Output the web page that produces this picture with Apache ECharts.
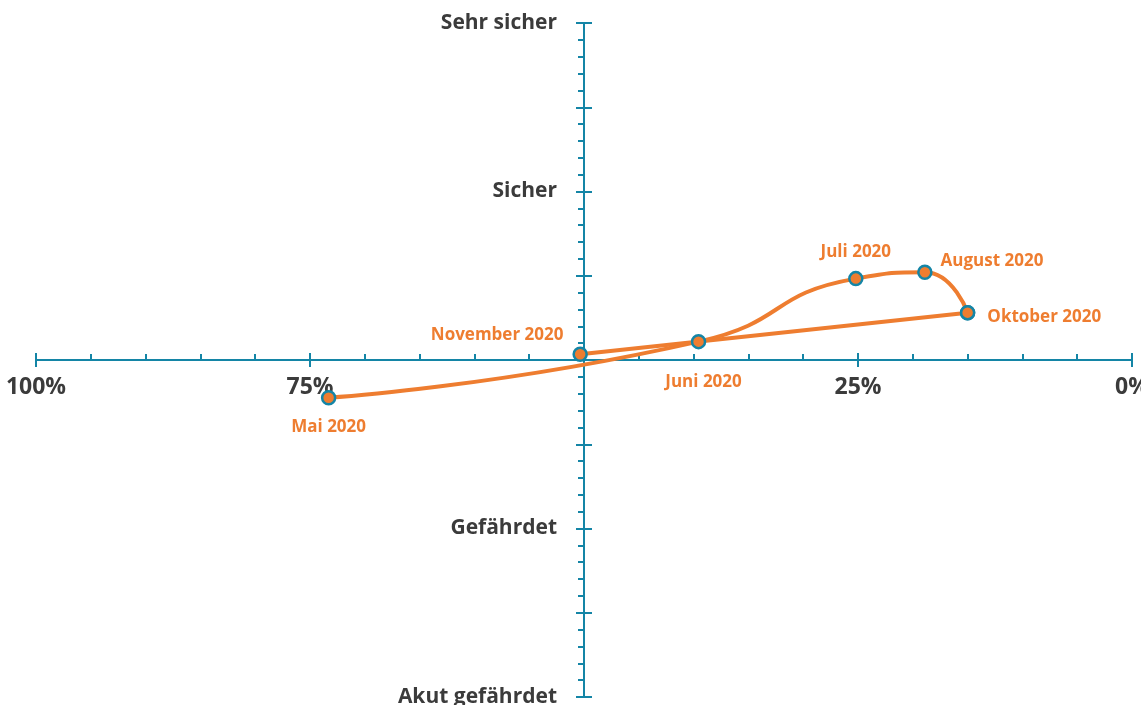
<!DOCTYPE html>
<html>
<head>
<meta charset="utf-8">
<script src="https://cdn.jsdelivr.net/npm/echarts@6/dist/echarts.min.js"></script>
<style>
html,body{margin:0;padding:0;background:#fff;}
#chart{width:1141px;height:705px;}
</style>
</head>
<body>
<div id="chart"></div>
<script>
// Data (x = percent, y = security score -2..2)
const months = ['Mai 2020', 'Juni 2020', 'Juli 2020', 'August 2020', 'Oktober 2020', 'November 2020'];
const xPercent = [73.3, 39.55, 25.2, 18.9, 15.0, 50.35];
const yScore = [-0.224, 0.109, 0.483, 0.521, 0.281, 0.034];
const xTickLabels = { 100: '100%', 75: '75%', 25: '25%', 0: '0%' };
const yTickLabels = { '2': 'Sehr sicher', '1': 'Sicher', '-1': 'Gefährdet', '-2': 'Akut gefährdet' };

const AXIS = '#1485a6';
const ORANGE = '#ee7d30';
const TEXT = '#3b3b3b';
const FONT = '"Open Sans", "Noto Sans", sans-serif';

const labelPos = {
  'Mai 2020': { position: 'bottom', distance: 13, offset: [0, 0] },
  'Juni 2020': { position: 'bottom', distance: 24, offset: [5, 0] },
  'Juli 2020': { position: 'top', distance: 10, offset: [0, 0] },
  'August 2020': { position: 'right', distance: 8, offset: [0, -11] },
  'Oktober 2020': { position: 'right', distance: 12, offset: [0, 5] },
  'November 2020': { position: 'left', distance: 9, offset: [0, -19] }
};

function point(i, showLabel) {
  const m = months[i];
  return {
    name: m,
    value: [xPercent[i], yScore[i]],
    label: Object.assign({ show: showLabel }, labelPos[m])
  };
}
// curved path May..October, straight return October..November
const curvedData = [0, 1, 2, 3, 4].map(i => point(i, true));
const returnData = [point(4, false), point(5, true)];

const chart = echarts.init(document.getElementById('chart'), null, { renderer: 'canvas' });
const GL = 36, GR = 9, GT = 23, GB = 8;
const halfW = (1141 - GL - GR) / 2;
const halfH = (705 - GT - GB) / 2;

const tickStyle = { color: AXIS, width: 2 };
const xBase = {
  type: 'value', min: 0, max: 100, interval: 25, inverse: true,
  splitLine: { show: false },
  axisLine: { show: true, onZero: false, lineStyle: { color: AXIS, width: 2 } }
};
const yBase = {
  type: 'value', min: -2, max: 2, interval: 0.5,
  splitLine: { show: false },
  axisLine: { show: true, onZero: false, lineStyle: { color: AXIS, width: 2 } }
};

const seriesCommon = {
  type: 'line',
  xAxisIndex: 0, yAxisIndex: 0,
  symbol: 'circle',
  symbolSize: 13,
  lineStyle: { color: ORANGE, width: 4 },
  itemStyle: { color: ORANGE, borderColor: AXIS, borderWidth: 2.5 },
  label: {
    show: true, color: ORANGE, fontFamily: FONT, fontWeight: 'bold', fontSize: 17,
    formatter: p => p.name
  },
  z: 5
};

chart.setOption({
  animation: false,
  grid: { left: GL, right: GR, top: GT, bottom: GB, containLabel: false, outerBoundsMode: 'none' },
  xAxis: [
    Object.assign({}, xBase, {
      position: 'bottom', offset: -halfH,
      axisTick: { show: true, inside: true, length: 7, lineStyle: tickStyle },
      minorTick: { show: true, splitNumber: 5, length: 6, lineStyle: tickStyle },
      axisLabel: {
        show: true, margin: 16, color: TEXT, fontFamily: FONT, fontWeight: 'bold', fontSize: 23,
        formatter: v => xTickLabels[v] || ''
      }
    }),
    Object.assign({}, xBase, {
      position: 'top', offset: -halfH,
      axisTick: { show: true, inside: true, length: 7, lineStyle: tickStyle },
      axisLabel: { show: false }
    })
  ],
  yAxis: [
    Object.assign({}, yBase, {
      position: 'left', offset: -halfW,
      axisTick: { show: true, inside: false, length: 8, lineStyle: tickStyle },
      minorTick: { show: true, splitNumber: 5, length: 6, lineStyle: tickStyle },
      axisLabel: {
        show: true, margin: 27, color: TEXT, fontFamily: FONT, fontWeight: 'bold', fontSize: 21,
        formatter: v => yTickLabels[String(v)] || ''
      }
    }),
    Object.assign({}, yBase, {
      position: 'right', offset: -halfW,
      axisTick: { show: true, inside: false, length: 8, lineStyle: tickStyle },
      axisLabel: { show: false }
    })
  ],
  series: [
    Object.assign({}, seriesCommon, { name: 'Verlauf', data: curvedData, smooth: 0.55 }),
    Object.assign({}, seriesCommon, { name: 'Rückweg', data: returnData, smooth: false })
  ]
});
</script>
</body>
</html>
